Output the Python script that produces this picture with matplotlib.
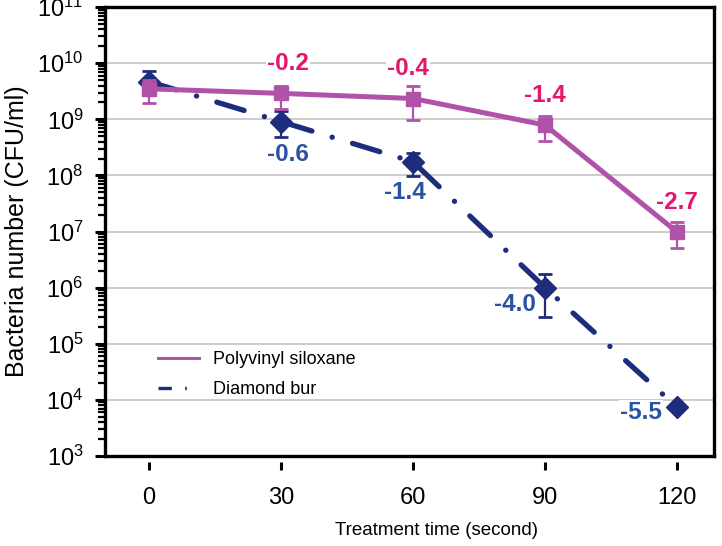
import matplotlib
matplotlib.use('Agg')
import matplotlib.pyplot as plt
from matplotlib.lines import Line2D
from matplotlib.ticker import LogLocator, NullFormatter

plt.rcParams['font.family'] = ['Liberation Sans', 'DejaVu Sans']
plt.rcParams['mathtext.default'] = 'regular'

#####
# Data

time = [0, 30, 60, 90, 120]

pvs_mean = [3.5e9, 2.9e9, 2.35e9, 7.9e8, 9.8e6]
pvs_lo = [1.95e9, 1.5e9, 9.8e8, 4.1e8, 5.0e6]
pvs_hi = [5.0e9, 3.9e9, 3.9e9, 1.15e9, 1.48e7]
pvs_labels = ['', '-0.2', '-0.4', '-1.4', '-2.7']

bur_mean = [4.7e9, 9.1e8, 1.75e8, 1.0e6, 7.4e3]
bur_lo = [3.0e9, 4.8e8, 9.8e7, 3.0e5, 6.5e3]
bur_hi = [7.2e9, 1.4e9, 2.5e8, 1.75e6, 8.5e3]
bur_labels = ['', '-0.6', '-1.4', '-4.0', '-5.5']

pvs_color = '#B052A8'
pvs_text = '#E2186D'
bur_color = '#1E2C7C'
bur_text = '#2A52A2'


def yerr(mean, lo, hi):
    return [[m - l for m, l in zip(mean, lo)], [h - m for m, h in zip(mean, hi)]]


fig = plt.figure(figsize=(7.22, 5.46), dpi=100)
ax = fig.add_axes([0.1454, 0.1648, 0.8436, 0.8222])

ax.set_yscale('log')
ax.set_ylim(1e3, 1e11)
ax.set_xlim(-10, 128.4)

# diamond bur first, polyvinyl siloxane drawn on top
ax.errorbar(time, bur_mean, yerr=yerr(bur_mean, bur_lo, bur_hi),
            color=bur_color, lw=3.8, ls=(0, (5.4, 4.0, 0.03, 4.0)),
            dash_capstyle='round', marker='D', markersize=11,
            elinewidth=1.6, capsize=5, capthick=2, zorder=3)
ax.errorbar(time, pvs_mean, yerr=yerr(pvs_mean, pvs_lo, pvs_hi),
            color=pvs_color, lw=3.6, marker='s', markersize=10,
            elinewidth=1.6, capsize=5, capthick=2, zorder=4)

label_box = dict(fc='white', ec='none', pad=0.5)

pvs_offsets = [(0, 0), (5, 21.6), (-3.6, 21.6), (0, 21.6), (0, 21.6)]
for x, y, t, off in zip(time, pvs_mean, pvs_labels, pvs_offsets):
    if t:
        ax.annotate(t, (x, y), xytext=off, textcoords='offset points',
                    ha='center', va='center', color=pvs_text,
                    fontsize=17.5, fontweight='bold', bbox=label_box, zorder=2)

bur_offsets = [(0, 0), (5, -24), (-6, -22), (-21.6, -12), (-26, -3.6)]
for x, y, t, off in zip(time, bur_mean, bur_labels, bur_offsets):
    if t:
        ax.annotate(t, (x, y), xytext=off, textcoords='offset points',
                    ha='center', va='center', color=bur_text,
                    fontsize=17.5, fontweight='bold', bbox=label_box, zorder=2)

# grid and frame
ax.yaxis.grid(True, which='major', color='#C8C8C8', lw=1.3)
ax.set_axisbelow(True)
for s in ['left', 'top', 'right']:
    ax.spines[s].set_linewidth(2.4)
ax.spines['bottom'].set_position(('outward', 4))
ax.spines['bottom'].set_visible(False)
ax.axhline(1e3, color='black', lw=2.4, clip_on=False, zorder=5)

ax.yaxis.set_major_locator(LogLocator(base=10, numticks=20))
ax.yaxis.set_minor_locator(LogLocator(base=10, subs=range(2, 10), numticks=20))
ax.yaxis.set_minor_formatter(NullFormatter())
ax.tick_params(axis='y', which='major', direction='out', length=7.5, width=2.2,
               labelsize=17, pad=8)
ax.tick_params(axis='y', which='minor', direction='out', length=5, width=1.6)
ax.set_xticks(time)
ax.tick_params(axis='x', direction='out', length=6, width=2.2, labelsize=17, pad=12)

ax.set_xlabel('Treatment time (second)', fontsize=13.5)
ax.xaxis.set_label_coords(0.545, -0.147)
ax.set_ylabel('Bacteria number (CFU/ml)', fontsize=18)
ax.yaxis.set_label_coords(-0.125, 0.5)

handles = [
    Line2D([], [], color=pvs_color, lw=2.2),
    Line2D([], [], color=bur_color, lw=2.4, ls=(0, (4, 4, 0.5, 4, 0.5, 4))),
]
ax.legend(handles, ['Polyvinyl siloxane', 'Diamond bur'], loc='lower left',
          bbox_to_anchor=(0.06, 0.092), frameon=False, fontsize=13,
          handlelength=2.27, handletextpad=0.78, labelspacing=0.75)

fig.savefig('out.png', dpi=100)
plt.close(fig)
